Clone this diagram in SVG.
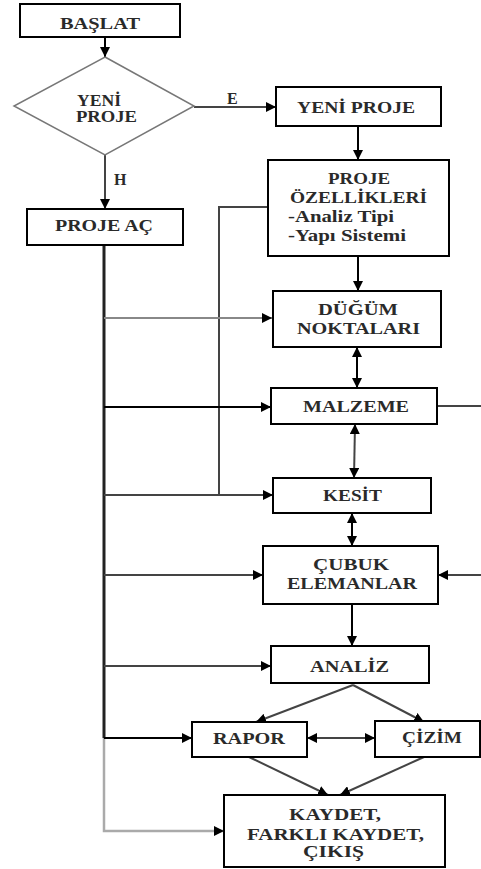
<svg xmlns="http://www.w3.org/2000/svg" width="481" height="869" viewBox="0 0 481 869">
<defs>
<marker id="ah" viewBox="0 0 10 10" refX="10" refY="5" markerWidth="10" markerHeight="10" markerUnits="userSpaceOnUse" orient="auto-start-reverse">
<path d="M0,0 L10,5 L0,10 z" fill="#000"/>
</marker>
<style>
.box{fill:#fff;stroke:#000;stroke-width:2}
.dia{fill:#fff;stroke:#777;stroke-width:1.5}
.t{font-family:"Liberation Serif","Times New Roman",serif;font-size:16px;font-weight:bold;fill:#2a2a2a;text-anchor:start}
.c{fill:none;stroke:#000;stroke-width:2}
.g{fill:none;stroke:#888;stroke-width:2}
.d{fill:none;stroke:#444;stroke-width:2}
</style>
</defs>
<rect width="481" height="869" fill="#fff"/>
<g id="connectors">
<line class="c" x1="105" y1="37" x2="105" y2="57" marker-end="url(#ah)"/>
<line class="d" x1="194" y1="107" x2="276" y2="107" marker-end="url(#ah)"/>
<line class="d" x1="105" y1="155" x2="105" y2="209" marker-end="url(#ah)"/>
<line class="c" x1="358" y1="126" x2="358" y2="160" marker-end="url(#ah)"/>
<polyline class="d" points="268,207 219,207 219,495"/>
<line class="c" x1="358" y1="256" x2="358" y2="291" marker-end="url(#ah)"/>
<line class="c" x1="104" y1="245" x2="104" y2="738" style="stroke:#222;stroke-width:3"/>
<polyline points="104,738 104,831 224,831" style="fill:none;stroke:#aaa;stroke-width:2.5" marker-end="url(#ah)"/>
<line class="g" x1="104" y1="318" x2="272" y2="318" marker-end="url(#ah)"/>
<line class="c" x1="104" y1="407" x2="271" y2="407" marker-end="url(#ah)"/>
<line class="d" x1="104" y1="495" x2="273" y2="495" marker-end="url(#ah)"/>
<line class="d" x1="104" y1="575" x2="263" y2="575" marker-end="url(#ah)"/>
<line class="d" x1="104" y1="666" x2="271" y2="666" marker-end="url(#ah)"/>
<line class="c" x1="104" y1="738" x2="192" y2="738" marker-end="url(#ah)"/>
<line class="c" x1="357" y1="347" x2="357" y2="388" marker-start="url(#ah)" marker-end="url(#ah)"/>
<line class="d" x1="355" y1="424" x2="354" y2="478" marker-start="url(#ah)" marker-end="url(#ah)"/>
<line class="c" x1="352" y1="513" x2="352" y2="546" marker-start="url(#ah)" marker-end="url(#ah)"/>
<line class="d" x1="437" y1="406" x2="481" y2="406"/>
<line class="d" x1="481" y1="575" x2="438" y2="575" marker-end="url(#ah)"/>
<line class="c" x1="352" y1="604" x2="352" y2="646" marker-end="url(#ah)"/>
<line class="d" x1="353" y1="685" x2="256" y2="722" marker-end="url(#ah)"/>
<line class="d" x1="353" y1="685" x2="424" y2="722" marker-end="url(#ah)"/>
<line class="d" x1="307" y1="738" x2="375" y2="738" marker-start="url(#ah)" marker-end="url(#ah)"/>
<line class="d" x1="249" y1="757" x2="328" y2="795" marker-end="url(#ah)"/>
<line class="d" x1="424" y1="757" x2="340" y2="795" marker-end="url(#ah)"/>
</g>
<g id="baslat"><rect class="box" x="20" y="4" width="160" height="33"/><text class="t" x="60" y="29" textLength="80" lengthAdjust="spacingAndGlyphs">BAŞLAT</text></g>
<g id="yeni-proje-karar"><polygon class="dia" points="105,57 194,106 105,155 14,106"/><text class="t" x="77" y="106" textLength="44" lengthAdjust="spacingAndGlyphs">YENİ</text><text class="t" x="76" y="122" textLength="61" lengthAdjust="spacingAndGlyphs">PROJE</text></g>
<g id="label-e"><text class="t" x="227" y="104">E</text></g>
<g id="label-h"><text class="t" x="114" y="185">H</text></g>
<g id="yeni-proje"><rect class="box" x="276" y="87" width="165" height="39"/><text class="t" x="297" y="113" textLength="118" lengthAdjust="spacingAndGlyphs">YENİ PROJE</text></g>
<g id="proje-ac"><rect class="box" x="27" y="209" width="156" height="36"/><text class="t" x="55" y="231" textLength="98" lengthAdjust="spacingAndGlyphs">PROJE AÇ</text></g>
<g id="proje-ozellikleri"><rect class="box" x="268" y="160" width="181" height="96"/>
<text class="t" x="328" y="184" textLength="62" lengthAdjust="spacingAndGlyphs">PROJE</text>
<text class="t" x="290" y="203" textLength="137" lengthAdjust="spacingAndGlyphs">ÖZELLİKLERİ</text>
<text class="t" x="288" y="222" textLength="106" lengthAdjust="spacingAndGlyphs">-Analiz Tipi</text>
<text class="t" x="288" y="241" textLength="118" lengthAdjust="spacingAndGlyphs">-Yapı Sistemi</text></g>
<g id="dugum"><rect class="box" x="273" y="291" width="168" height="56"/><text class="t" x="318" y="315" textLength="80" lengthAdjust="spacingAndGlyphs">DÜĞÜM</text><text class="t" x="297" y="334" textLength="123" lengthAdjust="spacingAndGlyphs">NOKTALARI</text></g>
<g id="malzeme"><rect class="box" x="271" y="388" width="166" height="36"/><text class="t" x="303" y="412" textLength="106" lengthAdjust="spacingAndGlyphs">MALZEME</text></g>
<g id="kesit"><rect class="box" x="273" y="478" width="158" height="35"/><text class="t" x="323" y="501" textLength="59" lengthAdjust="spacingAndGlyphs">KESİT</text></g>
<g id="cubuk"><rect class="box" x="263" y="546" width="175" height="58"/><text class="t" x="313" y="570" textLength="76" lengthAdjust="spacingAndGlyphs">ÇUBUK</text><text class="t" x="287" y="589" textLength="130" lengthAdjust="spacingAndGlyphs">ELEMANLAR</text></g>
<g id="analiz"><rect class="box" x="271" y="646" width="158" height="37"/><text class="t" x="310" y="672" textLength="79" lengthAdjust="spacingAndGlyphs">ANALİZ</text></g>
<g id="rapor"><rect class="box" x="192" y="722" width="115" height="35"/><text class="t" x="213" y="744" textLength="72" lengthAdjust="spacingAndGlyphs">RAPOR</text></g>
<g id="cizim"><rect class="box" x="375" y="721" width="105" height="36"/><text class="t" x="402" y="743" textLength="60" lengthAdjust="spacingAndGlyphs">ÇİZİM</text></g>
<g id="kaydet"><rect class="box" x="224" y="795" width="221" height="72"/>
<text class="t" x="289" y="820" textLength="92" lengthAdjust="spacingAndGlyphs">KAYDET,</text>
<text class="t" x="247" y="840" textLength="177" lengthAdjust="spacingAndGlyphs">FARKLI KAYDET,</text>
<text class="t" x="303" y="857" textLength="61" lengthAdjust="spacingAndGlyphs">ÇIKIŞ</text></g>
</svg>
